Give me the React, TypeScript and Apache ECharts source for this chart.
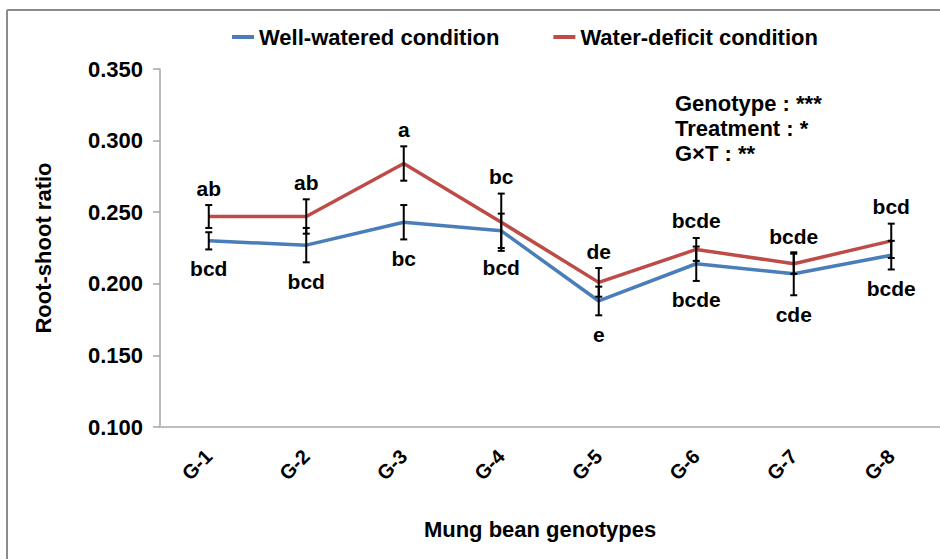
import React, { useEffect, useRef } from "react";
import * as echarts from "echarts";

const categories = ["G-1", "G-2", "G-3", "G-4", "G-5", "G-6", "G-7", "G-8"];
const wellWatered = [0.23, 0.227, 0.243, 0.237, 0.188, 0.214, 0.207, 0.22];
const waterDeficit = [0.247, 0.247, 0.284, 0.243, 0.201, 0.224, 0.214, 0.23];
const wellWateredErr = [0.006, 0.012, 0.012, 0.012, 0.01, 0.012, 0.015, 0.01];
const waterDeficitErr = [0.008, 0.012, 0.012, 0.02, 0.01, 0.008, 0.007, 0.012];
const wellWateredLetters = ["bcd", "bcd", "bc", "bcd", "e", "bcde", "cde", "bcde"];
const waterDeficitLetters = ["ab", "ab", "a", "bc", "de", "bcde", "bcde", "bcd"];
const annotations = ["Genotype : ***", "Treatment : *", "G×T : **"];
const Y_MIN = 0.1;
const Y_MAX = 0.35;
const Y_INTERVAL = 0.05;

const FONT = '"Liberation Sans", Arial, sans-serif';
const BLUE = "#4a7ebb";
const RED = "#be4b48";

function errorSeries(
  name: string,
  values: number[],
  errs: number[],
  letters: string[],
  side: "top" | "bottom"
) {
  return {
    type: "custom",
    name,
    silent: true,
    z: 5,
    data: values.map((v, i) => [i, v, errs[i]]),
    renderItem: (params: any, api: any) => {
      const i = api.value(0);
      const v = api.value(1);
      const e = api.value(2);
      const top = api.coord([i, v + e]);
      const bot = api.coord([i, v - e]);
      const x = top[0];
      const cap = 3.5;
      const st = { stroke: "#000", lineWidth: 2 };
      const letter = letters[params.dataIndex];
      const ty = side === "top" ? top[1] - 17 : bot[1] + 19;
      return {
        type: "group",
        children: [
          { type: "line", shape: { x1: x, y1: top[1], x2: x, y2: bot[1] }, style: st },
          { type: "line", shape: { x1: x - cap, y1: top[1], x2: x + cap, y2: top[1] }, style: st },
          { type: "line", shape: { x1: x - cap, y1: bot[1], x2: x + cap, y2: bot[1] }, style: st },
          {
            type: "text",
            x,
            y: ty,
            style: {
              text: letter,
              fill: "#000",
              font: `bold 21px ${FONT}`,
              align: "center",
              verticalAlign: "middle",
            },
          },
        ],
      };
    },
  };
}

export default function App() {
  const ref = useRef<HTMLDivElement>(null);
  useEffect(() => {
    if (!ref.current) return;
    const chart = echarts.init(ref.current, null, { renderer: "svg" });
    chart.setOption({
      animation: false,
      backgroundColor: "#fff",
      textStyle: { fontFamily: FONT },
      grid: { left: 160, right: 0, top: 69, bottom: 132 },
      legend: {
        data: ["Well-watered condition", "Water-deficit condition"],
        left: 232,
        top: 26,
        icon: "rect",
        itemWidth: 22,
        itemHeight: 4,
        itemGap: 54,
        padding: 0,
        textStyle: { fontSize: 22, fontWeight: "bold", color: "#000", fontFamily: FONT },
      },
      xAxis: {
        type: "category",
        data: categories,
        boundaryGap: true,
        name: "Mung bean genotypes",
        nameLocation: "middle",
        nameGap: 91,
        nameTextStyle: {
          fontSize: 22,
          fontWeight: "bold",
          color: "#000",
          fontFamily: FONT,
          padding: [0, 20, 0, 0],
        },
        axisLine: { lineStyle: { color: "#bdbdbd", width: 2 } },
        axisTick: { show: false },
        axisLabel: {
          rotate: 45,
          margin: 26,
          fontSize: 20,
          fontWeight: "bold",
          color: "#000",
          fontFamily: FONT,
        },
        splitLine: { show: false },
      },
      yAxis: {
        type: "value",
        min: Y_MIN,
        max: Y_MAX,
        interval: Y_INTERVAL,
        name: "Root-shoot ratio",
        nameLocation: "middle",
        nameGap: 106,
        nameTextStyle: { fontSize: 22, fontWeight: "bold", color: "#000", fontFamily: FONT },
        axisLine: { show: true, lineStyle: { color: "#a6a6a6", width: 1.5 } },
        axisTick: { show: true, length: 7, lineStyle: { color: "#a6a6a6", width: 1.5 } },
        axisLabel: {
          margin: 17,
          fontSize: 22,
          fontWeight: "bold",
          color: "#000",
          fontFamily: FONT,
          formatter: (v: number) => v.toFixed(3),
        },
        splitLine: { show: false },
      },
      series: [
        {
          name: "Well-watered condition",
          type: "line",
          data: wellWatered,
          symbol: "none",
          lineStyle: { color: BLUE, width: 3.5 },
          itemStyle: { color: BLUE },
          z: 3,
        },
        {
          name: "Water-deficit condition",
          type: "line",
          data: waterDeficit,
          symbol: "none",
          lineStyle: { color: RED, width: 3.5 },
          itemStyle: { color: RED },
          z: 3,
        },
        errorSeries("ww-err", wellWatered, wellWateredErr, wellWateredLetters, "bottom"),
        errorSeries("wd-err", waterDeficit, waterDeficitErr, waterDeficitLetters, "top"),
      ],
      graphic: [
        {
          type: "line",
          shape: { x1: 7, y1: 10, x2: 940, y2: 10 },
          style: { stroke: "#8c8c8c", lineWidth: 2 },
        },
        {
          type: "line",
          shape: { x1: 7, y1: 10, x2: 7, y2: 559 },
          style: { stroke: "#8c8c8c", lineWidth: 2 },
        },
        ...annotations.map((t, i) => ({
          type: "text",
          left: 675,
          top: 92 + i * 25,
          style: {
            text: t,
            fill: "#000",
            font: `bold 22px ${FONT}`,
          },
        })),
      ],
    });
    return () => chart.dispose();
  }, []);
  return (
    <div
      ref={ref}
      style={{ position: "absolute", left: 0, top: 0, width: 940, height: 559 }}
    />
  );
}
